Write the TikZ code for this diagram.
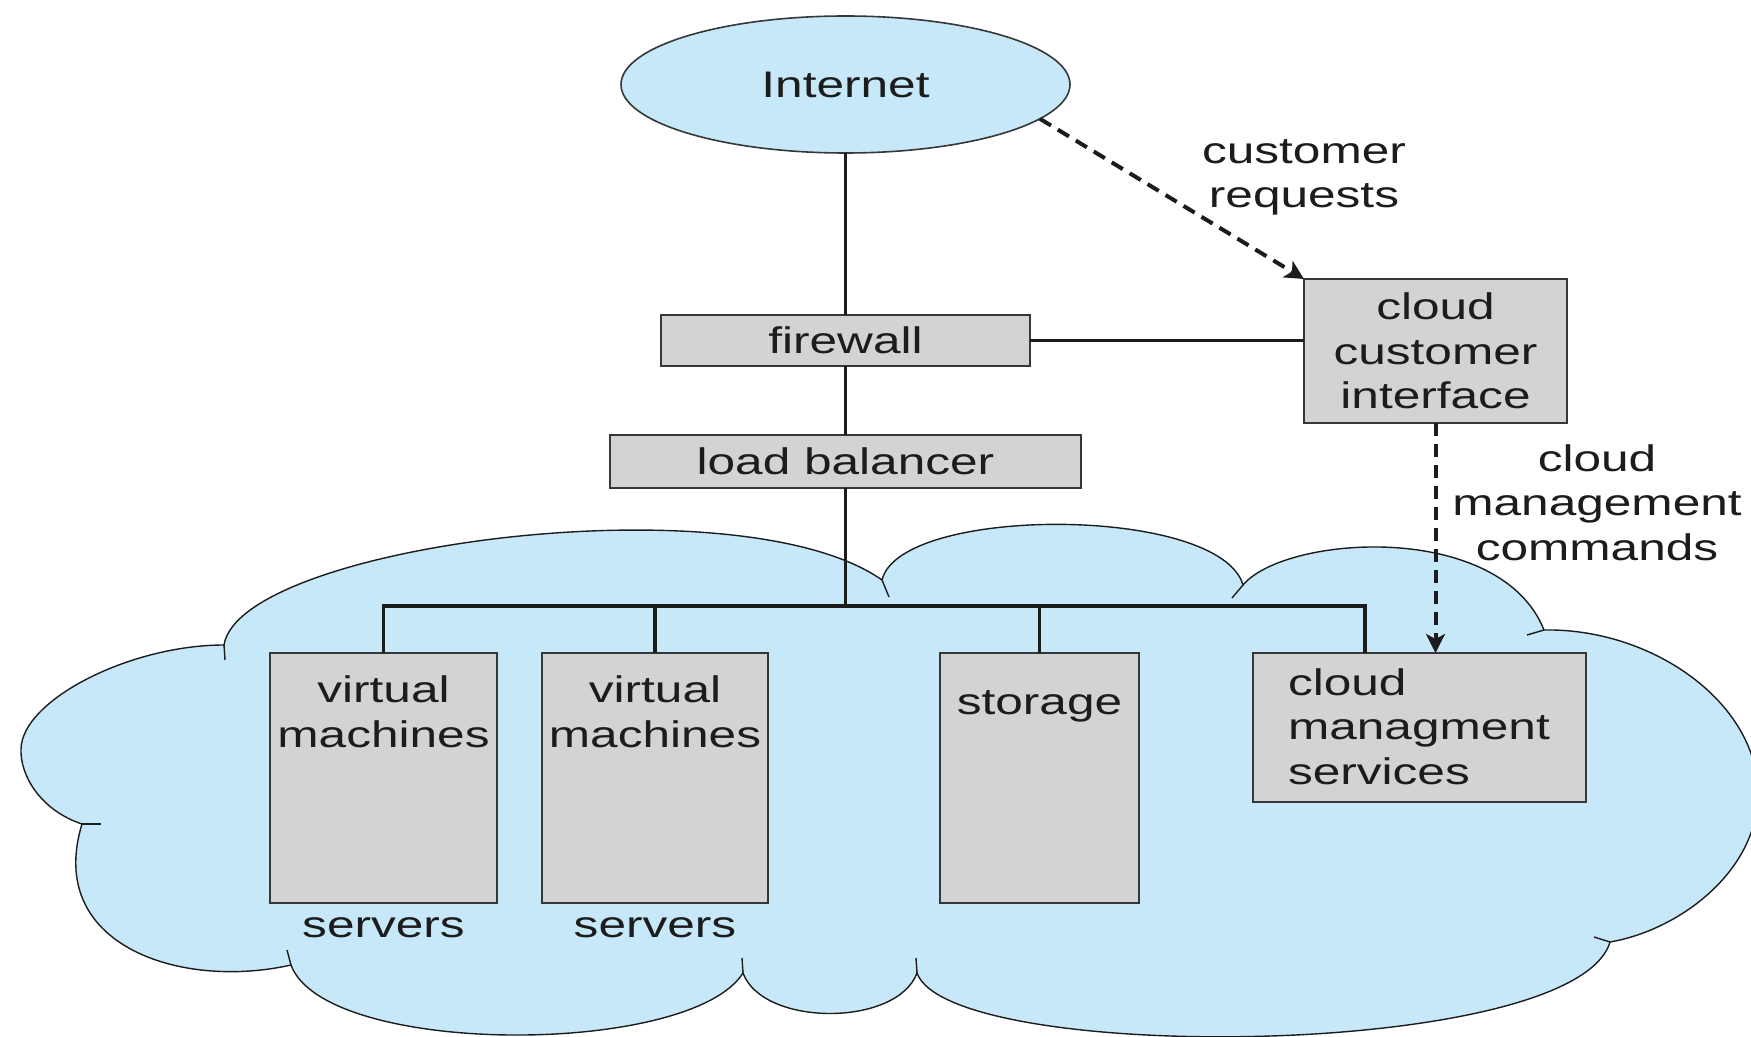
\documentclass[tikz,border=0pt]{standalone}
\usepackage{fontspec}
\setmainfont{Liberation Sans}[FakeStretch=1.34]
\usetikzlibrary{shapes.geometric,arrows.meta}
\definecolor{cloudblue}{RGB}{198,232,248}
\definecolor{boxgray}{RGB}{209,211,212}
\definecolor{edgegray}{RGB}{55,55,55}
\definecolor{inkblack}{RGB}{28,28,28}
\begin{document}
\begin{tikzpicture}[x=0.5pt,y=-0.5pt,
  lbl/.style={font=\fontsize{18.5}{22.35}\selectfont, text=inkblack, inner sep=0pt, outer sep=0pt},
  boxnode/.style={lbl, draw=edgegray, fill=boxgray, line width=0.8pt},
  link/.style={draw=inkblack, line width=1.9pt},
  dlink/.style={draw=inkblack, line width=2pt, dash pattern=on 6.5pt off 4pt, -{Stealth[length=9.5pt,width=9.5pt,inset=2.5pt]}},
  cloudline/.style={draw=inkblack, line width=0.7pt}
]
\useasboundingbox (0,0) rectangle (1751,1037);
% cloud
\path[fill=cloudblue, cloudline]
  (224,645) .. controls (240,545) and (740,480) .. (882,580)
  .. controls (900,505) and (1220,505) .. (1243,585)
  .. controls (1285,535) and (1500,520) .. (1544,630)
  .. controls (1650,628) and (1755,700) .. (1758,790)
  .. controls (1760,870) and (1680,930) .. (1610,942)
  .. controls (1575,1060) and (950,1065) .. (917,973)
  .. controls (897,1027) and (763,1027) .. (743,973)
  .. controls (690,1057) and (325,1057) .. (291,965)
  .. controls (180,990) and (45,945) .. (82,824)
  .. controls (40,810) and (20,775) .. (21,749)
  .. controls (22,700) and (130,645) .. (224,645)
  -- cycle;
\draw[cloudline] (224,645) -- (225,660);
\draw[cloudline] (882,580) -- (889,597);
\draw[cloudline] (1243,585) -- (1232,598);
\draw[cloudline] (1544,630) -- (1527,635);
\draw[cloudline] (1610,942) -- (1594,937);
\draw[cloudline] (917,973) -- (916,958);
\draw[cloudline] (743,973) -- (742,958);
\draw[cloudline] (291,965) -- (287,950);
\draw[cloudline] (82,824) -- (101,824);

% nodes
\node[ellipse, lbl, draw=edgegray, fill=cloudblue, line width=0.8pt, minimum width=224.5pt, minimum height=68.5pt] (inet) at (845.5,84.5) {Internet};
\node[boxnode, minimum width=184.5pt, minimum height=25.5pt] (fw) at (845.5,340.5) {firewall};
\node[boxnode, minimum width=235.5pt, minimum height=26.5pt] (lb) at (845.5,461.5) {load balancer};
\node[boxnode, minimum width=131.5pt, minimum height=72pt, align=center] (cci) at (1435.5,351) {cloud\\customer\\interface};
\node[boxnode, minimum width=113.5pt, minimum height=125pt] (vm1) at (383.5,778) {};
\node[boxnode, minimum width=113pt, minimum height=125pt] (vm2) at (655,778) {};
\node[boxnode, minimum width=99.5pt, minimum height=125pt] (st) at (1039.5,778) {};
\node[boxnode, minimum width=166.5pt, minimum height=74.5pt] (cms) at (1419.5,727.5) {};

\node[lbl, align=center] (vm1t) at (383.5,712) {virtual\\machines};
\node[lbl, align=center] (vm2t) at (655,712) {virtual\\machines};
\node[lbl] (stt) at (1039.5,706.5) {storage};
\node[lbl, align=left, anchor=west] (cmst) at (1288,726.5) {cloud\\managment\\services};
\node[lbl] (srv1) at (383.5,927.5) {servers};
\node[lbl] (srv2) at (655,927.5) {servers};
\node[lbl, align=center] (reqt) at (1304,177.5) {customer\\requests};
\node[lbl, align=center] (cmdt) at (1597,502.5) {cloud\\management\\commands};

% connectors
\coordinate (bus) at (845.5,606);
\coordinate (cmsdrop) at (1365,653);
\draw[link] (inet.south) -- (fw.north);
\draw[link] (fw.south) -- (lb.north);
\draw[link] (fw.east) -- (fw.east -| cci.west);
\draw[link] (lb.south) -- (bus);
\draw[link] (vm1.north) -- (vm1.north |- bus) -- (cmsdrop |- bus) -- (cmsdrop);
\draw[link] (vm2.north) -- (vm2.north |- bus);
\draw[link] (st.north) -- (st.north |- bus);
\draw[dlink] (inet.-10) -- (cci.north west);
\draw[dlink] (cci.south) -- (cci.south |- cms.north);
\end{tikzpicture}
\end{document}
